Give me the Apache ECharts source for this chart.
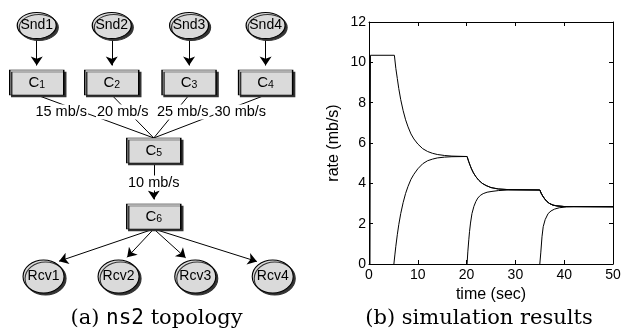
<!DOCTYPE html>
<html><head><meta charset="utf-8">
<script src="https://cdn.jsdelivr.net/npm/echarts@6/dist/echarts.min.js"></script>
<style>html,body{margin:0;padding:0;background:#fff}#c{width:624px;height:333px}</style>
</head><body><div id="c"></div>
<script>
// ================= DATA: (b) simulation results =================
const xTicks = [0, 10, 20, 30, 40, 50];
const yTicks = [0, 2, 4, 6, 8, 10, 12];
const xName = 'time (sec)';
const yName = 'rate (mb/s)';
// flow 1 alone until t=5, then shares with flow 2
const flow1Start = [[0.2,0],[0.3,10.35],[5.2,10.35],[5.5,9.7],[5.8,9.2],[6.1,8.7],[6.5,8.15],[7.0,7.6],[7.5,7.15],[8.0,6.8],[8.6,6.45],[9.2,6.2],[10.0,5.95],[11.0,5.72],[12.0,5.58],[13.0,5.49],[14.0,5.43],[15.5,5.38],[17.0,5.35],[20.1,5.33]];
const flow2Start = [[5.1,0],[5.3,0.45],[5.5,0.88],[5.8,1.45],[6.1,1.95],[6.5,2.5],[7.0,3.05],[7.5,3.5],[8.0,3.85],[8.6,4.2],[9.2,4.45],[10.0,4.72],[11.0,4.97],[12.0,5.12],[13.0,5.2],[14.0,5.26],[15.5,5.3],[17.0,5.32],[20.1,5.33]];
const flow3Start = [[20.1,0],[20.25,0.6],[20.45,1.2],[20.6,1.6],[20.8,2.03],[21.1,2.5],[21.5,2.86],[21.9,3.1],[22.3,3.27],[22.8,3.4],[23.4,3.49],[24.2,3.56],[25.2,3.6],[26.5,3.64],[28.5,3.67],[35.0,3.67]];
const flow4Start = [[35.0,0],[35.2,0.55],[35.45,1.35],[35.7,1.85],[36.1,2.2],[36.7,2.5],[37.3,2.63],[38.0,2.72],[39.0,2.79],[40.5,2.83],[42.0,2.84],[50,2.84]];
// shared fair-share segments after new flows join
const share3 = [[20.4,5.1],[20.7,4.9],[21.0,4.72],[21.4,4.52],[21.9,4.33],[22.5,4.15],[23.2,4.0],[24.0,3.89],[25.0,3.79],[26.5,3.72],[28.5,3.69],[35.0,3.67]];
const share4 = [[35.3,3.5],[35.6,3.37],[36.0,3.23],[36.5,3.09],[37.0,3.0],[37.7,2.92],[38.5,2.88],[40.0,2.85],[50,2.84]];

// ================= DATA: (a) ns2 topology =================
const senders = ['Snd1','Snd2','Snd3','Snd4'];
const routers = ['C1','C2','C3','C4'];
const hubs = ['C5','C6'];
const receivers = ['Rcv1','Rcv2','Rcv3','Rcv4'];
const accessRates = ['15 mb/s','20 mb/s','25 mb/s','30 mb/s'];
const coreRate = '10 mb/s';
const captionA = ['(a) ', 'ns2', ' topology'];
const captionB = '(b) simulation results';

// ================= LAYOUT (diagram grid units) =================
const colSend = [0, 0.98, 1.99, 2.99];
const colRecv = [0.089, 1.069, 2.071, 3.083];
const colRate = [0.32, 1.124, 1.907, 2.659];
const colHub = 1.529;
const rowOf = {snd:0, c:0.95, rate:1.442, c5:2.083, rate5:2.625, c6:3.183, rcv:4.183};

const FONT = "'Liberation Sans', Arial, Helvetica, sans-serif";
const SERIF = "'DejaVu Serif', serif";
const MONO = "'DejaVu Sans Mono', monospace";
const ELLIPSE = 'path://M0,50C0,22.4,22.4,0,50,0C77.6,0,100,22.4,100,50C100,77.6,77.6,100,50,100C22.4,100,0,77.6,0,50Z';
const shapes = {
  snd: {symbol: ELLIPSE, size: [39, 26]},
  box: {symbol: 'rect', size: [54, 25]},
  rcv: {symbol: ELLIPSE, size: [41, 33]}
};

const nodes = [];
senders.forEach((n,i)=>nodes.push({name:n, kind:'snd', value:[colSend[i], rowOf.snd]}));
routers.forEach((n,i)=>nodes.push({name:n, kind:'box', value:[colSend[i], rowOf.c]}));
nodes.push({name:hubs[0], kind:'box', value:[colHub, rowOf.c5]});
nodes.push({name:hubs[1], kind:'box', value:[colHub, rowOf.c6]});
receivers.forEach((n,i)=>nodes.push({name:n, kind:'rcv', value:[colRecv[i], rowOf.rcv]}));
const byName = {};
nodes.forEach(n=>byName[n.name]=n);

const links = [];
senders.forEach((s,i)=>links.push([s, routers[i], true]));
routers.forEach(r=>links.push([r, hubs[0], false]));
links.push([hubs[0], hubs[1], true]);
receivers.forEach(r=>links.push([hubs[1], r, true]));

const rateLabels = accessRates.map((t,i)=>({value:[colRate[i], rowOf.rate], label:{formatter:t}}));
rateLabels.push({value:[colHub, rowOf.rate5], label:{formatter:coreRate}});

const nodeData = nodes.map(n=>{
  const sh = shapes[n.kind];
  const lbl = n.kind === 'box' ? '{c|' + n.name[0] + '}{s|' + n.name.slice(1) + '}' : n.name;
  return {name:n.name, value:n.value, symbol:sh.symbol, symbolSize:sh.size, label:{formatter:lbl}};
});

const chart = echarts.init(document.getElementById('c'), null, {renderer:'canvas', width:624, height:333});
const black = '#000';
const axisBase = {
  axisLine:{onZero:false, lineStyle:{color:black, width:1}},
  axisTick:{inside:true, length:4, lineStyle:{color:black}},
  splitLine:{show:false}
};
const lbl = {color:black, fontFamily:FONT, fontSize:14};
const noShadowText = {textShadowColor:'transparent', textShadowBlur:0, textBorderWidth:0};

function flowSeries(data){
  return {type:'line', xAxisIndex:0, yAxisIndex:0, data:data, showSymbol:false, symbol:'none',
    lineStyle:{color:black, width:1}, silent:true, z:2};
}

const option = {
  animation:false,
  backgroundColor:'#fff',
  title:[
    {text:'{r|'+captionA[0]+'}{m|'+captionA[1]+'}{r|'+captionA[2]+'}', left:151.5, top:303, textAlign:'center',
     textStyle:{fontWeight:'normal', rich:{r:{fontFamily:SERIF, fontSize:21, color:black}, m:{fontFamily:MONO, fontSize:21, color:black}}}},
    {text:captionB, left:474, top:303, textAlign:'center',
     textStyle:{fontFamily:SERIF, fontSize:21, fontWeight:'normal', color:black}}
  ],
  grid:[
    {left:369, top:22, width:244, height:242},
    {left:0, top:0, width:310, height:300}
  ],
  xAxis:[
    Object.assign({type:'value', gridIndex:0, position:'bottom', min:xTicks[0], max:xTicks[xTicks.length-1], interval:10,
      name:xName, nameLocation:'middle', nameGap:12, nameTextStyle:{color:black, fontFamily:FONT, fontSize:16},
      axisLabel:Object.assign({margin:4}, lbl)}, axisBase),
    Object.assign({type:'value', gridIndex:0, position:'top', min:0, max:50, interval:10, axisLabel:{show:false}}, axisBase),
    {type:'value', gridIndex:1, min:-0.48, max:3.57, show:false}
  ],
  yAxis:[
    Object.assign({type:'value', gridIndex:0, position:'left', min:yTicks[0], max:yTicks[yTicks.length-1], interval:2,
      name:yName, nameLocation:'middle', nameGap:27, nameTextStyle:{color:black, fontFamily:FONT, fontSize:16},
      axisLabel:Object.assign({margin:3}, lbl)}, axisBase),
    Object.assign({type:'value', gridIndex:0, position:'right', min:0, max:12, interval:2, axisLabel:{show:false}}, axisBase),
    {type:'value', gridIndex:1, min:-0.425, max:4.575, inverse:true, show:false}
  ],
  series:[
    flowSeries(flow1Start.concat(share3, share4)),
    flowSeries(flow2Start.concat(share3, share4)),
    flowSeries(flow3Start.concat(share4)),
    flowSeries(flow4Start),
    {type:'scatter', xAxisIndex:2, yAxisIndex:2, z:5, silent:true, data:nodeData,
     itemStyle:{opacity:1, color:'#dadada', borderColor:black, borderWidth:1, shadowColor:'#333', shadowOffsetX:2, shadowOffsetY:2, shadowBlur:0},
     label:Object.assign({show:true, position:'inside', color:black, fontFamily:FONT, fontSize:14,
       rich:{c:Object.assign({fontFamily:FONT, fontSize:15, color:black, verticalAlign:'bottom', lineHeight:16}, noShadowText),
             s:Object.assign({fontFamily:FONT, fontSize:10.5, color:black, verticalAlign:'bottom', lineHeight:16}, noShadowText)}}, noShadowText),
     emphasis:{disabled:true}},
    {type:'scatter', xAxisIndex:2, yAxisIndex:2, z:4, silent:true, data:rateLabels, symbolSize:1,
     itemStyle:{color:'rgba(0,0,0,0)', opacity:1},
     label:Object.assign({show:true, position:'inside', color:black, fontFamily:FONT, fontSize:14.5, backgroundColor:'#fff', padding:[0,1]}, noShadowText),
     emphasis:{disabled:true}}
  ]
};
chart.setOption(option);

// ----- edges, computed from node layout through the diagram axes -----
const fnd = {xAxisIndex:2, yAxisIndex:2};
const toPx = v => chart.convertToPixel(fnd, v);
const toVal = p => chart.convertFromPixel(fnd, p);
const AH = 9;
function ellipseHit(p0, aim, c, a, b){
  const Dx = aim[0]-p0[0], Dy = aim[1]-p0[1], Ex = p0[0]-c[0], Ey = p0[1]-c[1];
  const qa = Dx*Dx/(a*a) + Dy*Dy/(b*b);
  const qb = 2*(Ex*Dx/(a*a) + Ey*Dy/(b*b));
  const qc = Ex*Ex/(a*a) + Ey*Ey/(b*b) - 1;
  const t = (-qb - Math.sqrt(qb*qb - 4*qa*qc))/(2*qa);
  return [p0[0]+t*Dx, p0[1]+t*Dy];
}
const arrowEdges = [], plainEdges = [];
links.forEach(([s, t, arrow])=>{
  const S = byName[s], T = byName[t];
  const sp = toPx(S.value), tp = toPx(T.value);
  const sh = shapes[S.kind].size, th = shapes[T.kind].size;
  const p0 = [sp[0], sp[1] + sh[1]/2];
  let p1;
  if (T.kind === 'rcv') p1 = ellipseHit(p0, [tp[0], tp[1]-10], tp, th[0]/2, th[1]/2);
  else p1 = [tp[0], tp[1] - th[1]/2];
  if (arrow) {
    const dx = p1[0]-p0[0], dy = p1[1]-p0[1], L = Math.hypot(dx, dy);
    p1 = [p1[0]-dx/L*AH/2, p1[1]-dy/L*AH/2];
    arrowEdges.push({coords:[toVal(p0), toVal(p1)]});
  } else {
    plainEdges.push({coords:[toVal(p0), toVal(p1)]});
  }
});
option.series.push(
  {type:'lines', coordinateSystem:'cartesian2d', xAxisIndex:2, yAxisIndex:2, z:3, silent:true,
   data:arrowEdges, symbol:['none','arrow'], symbolSize:[7, AH], lineStyle:{color:black, width:1, opacity:1}},
  {type:'lines', coordinateSystem:'cartesian2d', xAxisIndex:2, yAxisIndex:2, z:3, silent:true,
   data:plainEdges, symbol:['none','none'], lineStyle:{color:black, width:1, opacity:1}}
);
chart.setOption({series: option.series});
</script></body></html>
